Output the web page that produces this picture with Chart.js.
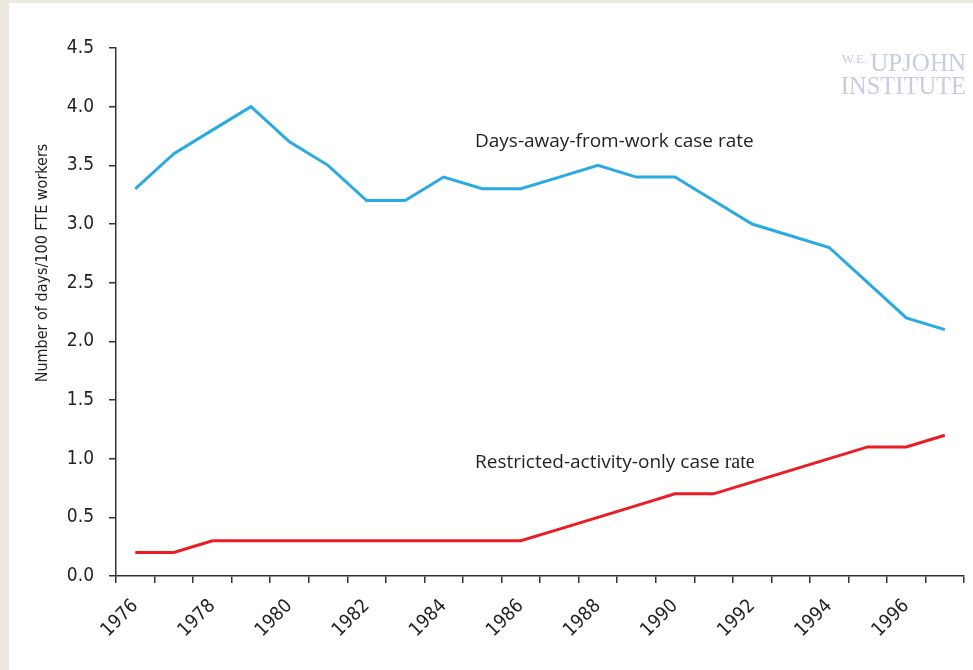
<!DOCTYPE html>
<html>
<head>
<meta charset="utf-8">
<script src="https://cdn.jsdelivr.net/npm/chart.js@4.4.1/dist/chart.umd.min.js"></script>
<style>
  html, body { margin: 0; padding: 0; }
  body { width: 973px; height: 670px; background: #ece8e1; position: relative; overflow: hidden; }
  #panel { position: absolute; left: 9px; top: 3px; right: 0; bottom: 0; background: #fff; }
  #wrap { position: absolute; left: 0; top: 0; width: 973px; height: 670px; }
</style>
</head>
<body>
<div id="panel"></div>
<div id="wrap"><canvas id="myChart" width="973" height="670"></canvas></div>
<script>
const years = ['1976', '1977', '1978', '1979', '1980', '1981', '1982', '1983', '1984', '1985', '1986',
  '1987', '1988', '1989', '1990', '1991', '1992', '1993', '1994', '1995', '1996', '1997'];
const daysAway = [3.3, 3.6, 3.8, 4.0, 3.7, 3.5, 3.2, 3.2, 3.4, 3.3, 3.3,
  3.4, 3.5, 3.4, 3.4, 3.2, 3.0, 2.9, 2.8, 2.5, 2.2, 2.1];
const restricted = [0.2, 0.2, 0.3, 0.3, 0.3, 0.3, 0.3, 0.3, 0.3, 0.3, 0.3,
  0.4, 0.5, 0.6, 0.7, 0.7, 0.8, 0.9, 1.0, 1.1, 1.1, 1.2];
const yTicks = [0, 0.5, 1.0, 1.5, 2.0, 2.5, 3.0, 3.5, 4.0, 4.5];

const narrow = "'Liberation Sans Narrow', 'DejaVu Sans Condensed', sans-serif";
const ink = '#231f20';

// text drawn on top of the chart: axis title, line labels, logo
const extras = {
  id: 'extras',
  afterDraw(chart) {
    const ctx = chart.ctx;
    ctx.save();
    ctx.fillStyle = ink;

    ctx.save();
    ctx.translate(47, 263);
    ctx.rotate(-Math.PI / 2);
    ctx.font = '16px ' + narrow;
    ctx.textAlign = 'center';
    ctx.textBaseline = 'alphabetic';
    ctx.fillText('Number of days/100 FTE workers', 0, 0);
    ctx.restore();

    ctx.font = '19px "Open Sans", "Noto Sans", sans-serif';
    ctx.textAlign = 'left';
    ctx.textBaseline = 'alphabetic';
    ctx.fillText('Days-away-from-work case rate', 475, 147);
    const first = 'Restricted-activity-only case ';
    ctx.fillText(first, 475, 468);
    const w = ctx.measureText(first).width;
    ctx.font = '20px "Liberation Serif", serif';
    ctx.fillText('rate', 475 + w, 468);

    ctx.fillStyle = '#c7cce2';
    ctx.textAlign = 'right';
    ctx.font = '25px "Liberation Serif", serif';
    ctx.fillText('UPJOHN', 966, 71);
    const uw = ctx.measureText('UPJOHN').width;
    ctx.font = '13px "Liberation Serif", serif';
    ctx.fillText('W.E.', 966 - uw - 3, 63);
    ctx.font = '24.5px "Liberation Serif", serif';
    ctx.fillText('INSTITUTE', 966, 94);
    ctx.restore();
  }
};

new Chart(document.getElementById('myChart').getContext('2d'), {
  type: 'line',
  data: {
    labels: years,
    datasets: [
      { label: 'Days-away-from-work case rate', data: daysAway, borderColor: '#2aaae2', borderWidth: 3, pointRadius: 0, tension: 0 },
      { label: 'Restricted-activity-only case rate', data: restricted, borderColor: '#ec1c24', borderWidth: 3, pointRadius: 0, tension: 0 }
    ]
  },
  options: {
    responsive: false,
    animation: false,
    layout: { padding: { left: 0, right: 2, top: 48, bottom: 0 } },
    plugins: { legend: { display: false }, tooltip: { enabled: false } },
    scales: {
      x: {
        type: 'category',
        offset: true,
        grid: { offset: true, drawOnChartArea: false, tickLength: 7, color: '#333', lineWidth: 1.5 },
        border: { color: '#333', width: 1.5 },
        ticks: {
          autoSkip: false,
          minRotation: 45,
          maxRotation: 45,
          padding: 12,
          color: ink,
          font: { family: narrow, size: 19 },
          callback: (v, i) => (i % 2 === 0 ? years[i] : '')
        },
        afterFit: (s) => { s.height = 670 - 576; }
      },
      y: {
        min: 0,
        max: 4.5,
        afterBuildTicks: (s) => { s.ticks = yTicks.map(v => ({ value: v })); },
        grid: { drawOnChartArea: false, tickLength: 7, color: '#333', lineWidth: 1.5 },
        border: { color: '#333', width: 1.5 },
        ticks: {
          padding: 15,
          color: ink,
          font: { family: narrow, size: 19 },
          callback: (v) => v.toFixed(1)
        },
        afterFit: (s) => { s.width = 116; }
      }
    }
  },
  plugins: [extras]
});
</script>
</body>
</html>
